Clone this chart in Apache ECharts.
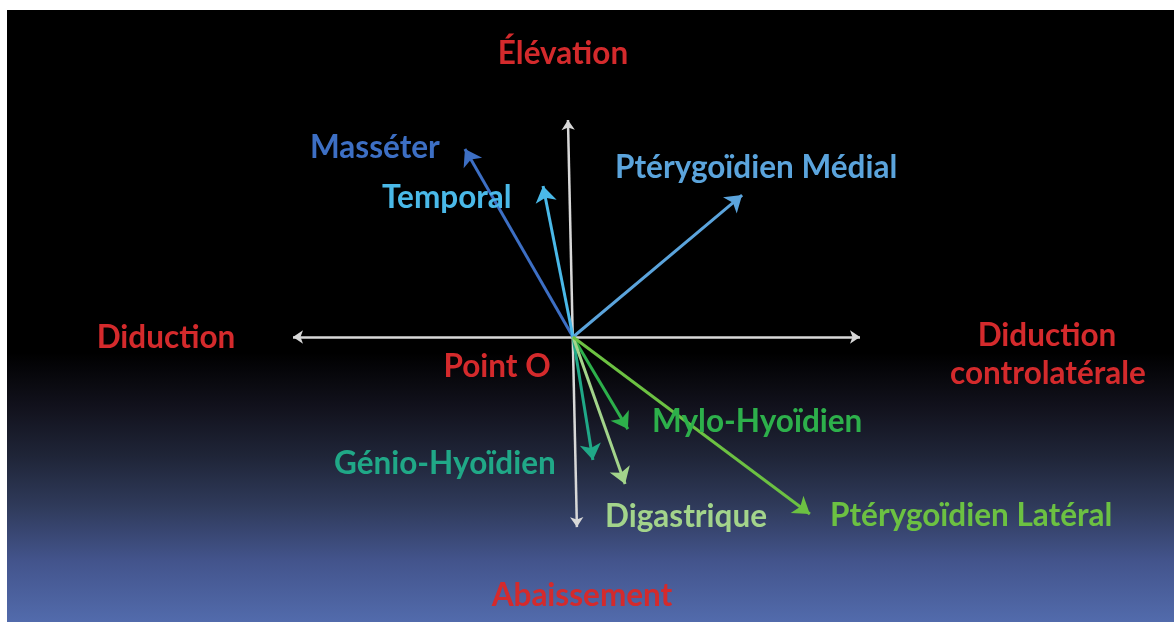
<!DOCTYPE html>
<html><head><meta charset="utf-8">
<script src="https://cdn.jsdelivr.net/npm/echarts@6/dist/echarts.min.js"></script>
<style>html,body{margin:0;padding:0;background:#fff;overflow:hidden}#c{width:1174px;height:622px}</style>
</head><body><div id="c"></div>
<script>
// Muscle action vectors from Point O (units: arbitrary, x = diduction, y = élévation)
const muscles = ['Masséter', 'Temporal', 'Ptérygoïdien Médial', 'Mylo-Hyoïdien', 'Génio-Hyoïdien', 'Digastrique', 'Ptérygoïdien Latéral'];
const vecX = [-3.86, -1.07, 6.04, 1.96, 0.71, 1.86, 8.46];
const vecY = [6.71, 5.39, 5.07, -3.29, -4.39, -5.25, -6.32];
const muscleColors = ['#3d6fc4', '#4ab9e8', '#5ba4dc', '#2db04b', '#20a887', '#a3d48b', '#6cc142'];
// Reference axes (end points in the same units)
const axisH = [[-10, 0], [10.25, 0]];
const axisV = [[0.14, -6.79], [-0.18, 7.75]];
const directions = ['Élévation', 'Diduction', 'Point O', 'Diduction', 'controlatérale', 'Abaissement'];

const PX = 28, OX = 573, OY = 337, W = 1174, H = 622;
const RED = '#d42a2c';
const FONT = 'Lato';
const FS = 31.5;
const DY = 2;

// label layout (pixel positions of text)
const muscleLabelPos = [[310,146],[382,196],[615,166],[652,420],[334,462],[605,515],[830,514]];
const dirLabelPos = [[563,52],[166,336],[497,365],[1047,334],[1048,372],[582,594]];

const chart = echarts.init(document.getElementById('c'), null, {renderer: 'canvas'});

const arrowData = muscles.map((m, i) => ({
  name: m,
  coords: [[0, 0], [vecX[i], vecY[i]]],
  lineStyle: {color: muscleColors[i]}
}));

const graphics = [
  {type: 'rect', z: -10, silent: true, shape: {x: 7, y: 10, width: W - 7, height: H - 10},
   style: {fill: new echarts.graphic.LinearGradient(0, 0, 0, 1, [
     {offset: 0, color: '#000000'},
     {offset: 0.56, color: '#000000'},
     {offset: 0.65, color: '#12121d'},
     {offset: 0.73, color: '#1f2538'},
     {offset: 0.81, color: '#2f3a5a'},
     {offset: 0.90, color: '#43548c'},
     {offset: 1, color: '#526bac'}
   ])}}
];
muscles.forEach((m, i) => {
  graphics.push({type: 'text', x: muscleLabelPos[i][0], y: muscleLabelPos[i][1] + DY, z: 10,
    style: {text: m, fill: muscleColors[i], font: `bold ${FS}px ${FONT}`, align: 'left', verticalAlign: 'middle'}});
});
directions.forEach((d, i) => {
  graphics.push({type: 'text', x: dirLabelPos[i][0], y: dirLabelPos[i][1] + DY, z: 10,
    style: {text: d, fill: RED, font: `bold ${FS}px ${FONT}`, align: 'center', verticalAlign: 'middle'}});
});

chart.setOption({
  backgroundColor: '#ffffff',
  animation: false,
  grid: {left: 0, right: 0, top: 0, bottom: 0},
  xAxis: {type: 'value', min: -OX / PX, max: (W - OX) / PX, show: false},
  yAxis: {type: 'value', min: -(H - OY) / PX, max: OY / PX, show: false},
  graphic: graphics,
  series: [
    {
      type: 'lines', coordinateSystem: 'cartesian2d', z: 2,
      symbol: ['arrow', 'arrow'], symbolSize: 10,
      lineStyle: {color: '#d8d8d8', width: 2.5, opacity: 1, curveness: 0},
      data: [{coords: axisH}, {coords: axisV}]
    },
    {
      type: 'lines', coordinateSystem: 'cartesian2d', z: 3,
      symbol: ['none', 'arrow'], symbolSize: 16,
      lineStyle: {width: 3, opacity: 1, curveness: 0},
      data: arrowData
    }
  ]
});
</script></body></html>
